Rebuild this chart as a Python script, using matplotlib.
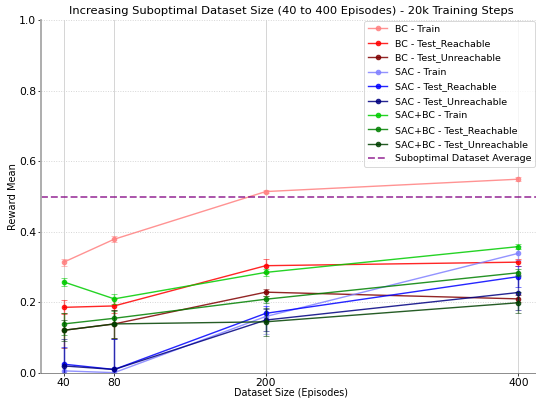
import numpy as np
import matplotlib
matplotlib.use('Agg')
import matplotlib.pyplot as plt

dataset_sizes = [40, 80, 200, 400]

# medias
bc_train = [0.314, 0.379, 0.514, 0.549]
bc_reach = [0.186, 0.190, 0.304, 0.314]
bc_unreach = [0.121, 0.139, 0.229, 0.210]
sac_train = [0.006, 0.001, 0.160, 0.339]
sac_reach = [0.025, 0.010, 0.169, 0.273]
sac_unreach = [0.020, 0.010, 0.150, 0.228]
sacbc_train = [0.258, 0.210, 0.285, 0.358]
sacbc_reach = [0.139, 0.155, 0.209, 0.284]
sacbc_unreach = [0.121, 0.139, 0.145, 0.199]

# desvios
bc_train_err = [0.010, 0.008, 0.005, 0.005]
bc_reach_err = [0.020, 0.020, 0.020, 0.010]
bc_unreach_err = [0.050, 0.040, 0.010, 0.010]
sac_train_err = [0.015, 0.010, 0.050, 0.020]
sac_reach_err = [0.050, 0.085, 0.020, 0.030]
sac_unreach_err = [0.075, 0.085, 0.030, 0.050]
sacbc_train_err = [0.012, 0.015, 0.010, 0.008]
sacbc_reach_err = [0.030, 0.020, 0.010, 0.010]
sacbc_unreach_err = [0.030, 0.040, 0.040, 0.030]

suboptimal_avg = 0.5

series = [
    ('BC - Train', bc_train, bc_train_err, '#ff8080'),
    ('BC - Test_Reachable', bc_reach, bc_reach_err, '#ff0000'),
    ('BC - Test_Unreachable', bc_unreach, bc_unreach_err, '#800000'),
    ('SAC - Train', sac_train, sac_train_err, '#8080ff'),
    ('SAC - Test_Reachable', sac_reach, sac_reach_err, '#0000ff'),
    ('SAC - Test_Unreachable', sac_unreach, sac_unreach_err, '#000080'),
    ('SAC+BC - Train', sacbc_train, sacbc_train_err, '#00cc00'),
    ('SAC+BC - Test_Reachable', sacbc_reach, sacbc_reach_err, '#008000'),
    ('SAC+BC - Test_Unreachable', sacbc_unreach, sacbc_unreach_err, '#004000'),
]

fig = plt.figure(figsize=(8, 400 / 67), dpi=67)
ax = fig.add_axes([41 / 536, 27 / 400, 500 / 536, 353 / 400])

for label, vals, err, color in series:
    ax.plot(dataset_sizes, vals, label=label, color=color, alpha=0.85,
            marker='o', markersize=5, linewidth=1.5)
    ax.errorbar(dataset_sizes, vals, yerr=err, fmt='none', ecolor=color, alpha=0.55,
                elinewidth=1.5, capsize=3.5)

ax.axhline(suboptimal_avg, color='purple', alpha=0.7, linestyle='--', linewidth=2,
           label='Suboptimal Dataset Average')

ax.set_ylim(0, 1.0)
ax.set_xticks(dataset_sizes)
ax.tick_params(labelsize=11.5, pad=2)
ax.set_xlabel('Dataset Size (Episodes)', fontsize=10.4, labelpad=0)
ax.set_ylabel('Reward Mean', fontsize=10.6, labelpad=1)
ax.set_title('Increasing Suboptimal Dataset Size (40 to 400 Episodes) - 20k Training Steps',
             fontsize=12.3)
ax.grid(axis='x', color='lightgray', linewidth=1)
ax.grid(axis='y', color='lightgray', linestyle=':', linewidth=1)
for s in ['top', 'right']:
    ax.spines[s].set_visible(False)
ax.spines['left'].set_color('darkgray')
ax.spines['left'].set_linewidth(2)
ax.spines['bottom'].set_color('dimgray')
ax.legend(loc='upper right', fontsize=10.2, labelspacing=0.57, borderaxespad=0,
          bbox_to_anchor=(535 / 536, 1 - 21 / 400), bbox_transform=fig.transFigure)

plt.savefig('out.png', dpi=67)
